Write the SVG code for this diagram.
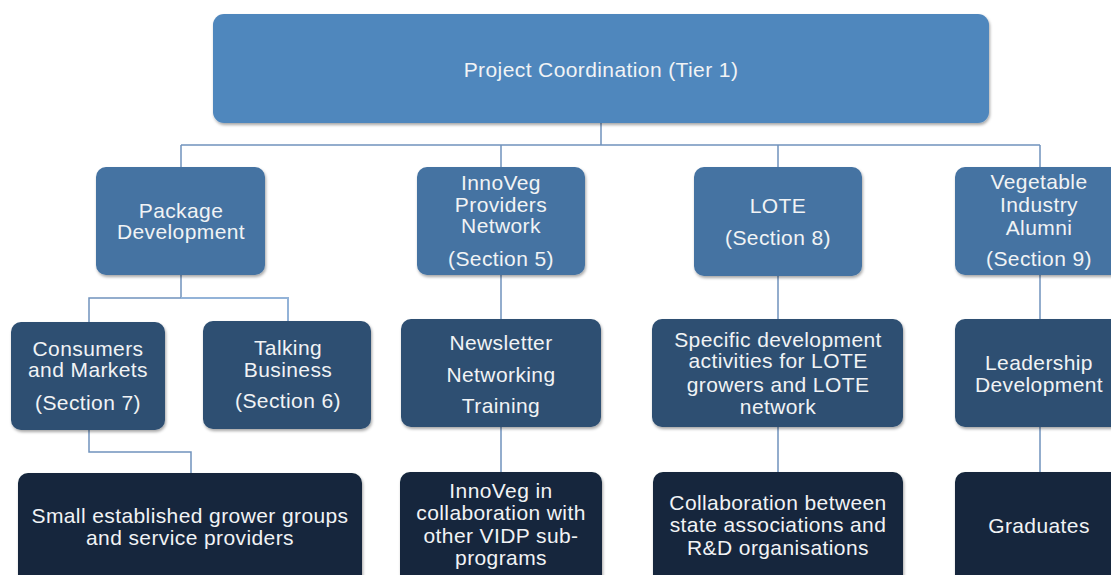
<svg xmlns="http://www.w3.org/2000/svg" width="1111" height="575" viewBox="0 0 1111 575">
  <defs>
    <filter id="shadow" x="-10%" y="-10%" width="120%" height="130%">
      <feDropShadow dx="1" dy="2" stdDeviation="1.6" flood-color="#000" flood-opacity="0.35"/>
    </filter>
  </defs>
  <style>
    .box { filter: url(#shadow); }
    .t1 { fill: #5087bd; }
    .t2 { fill: #4573a2; }
    .t3 { fill: #2e4f72; }
    .t4 { fill: #14283c; }
    .lbl { font-family: "Liberation Sans", Arial, Helvetica, sans-serif; font-size: 21px; letter-spacing: 0.4px; fill: #f1f3f5; text-anchor: middle; }
    .wire { fill: none; stroke: #7093bd; stroke-width: 1.5; }
    .wire-light { fill: none; stroke: #93b3d8; stroke-width: 2; }
  </style>

  <rect width="1111" height="575" fill="#ffffff"/>

  <!-- connectors -->
  <g id="connectors">
    <path class="wire" d="M601 123 V145 M181 145 H1040 M181 145 V167 M501 145 V167 M778 145 V167 M1040 145 V167"/>
    <path class="wire" d="M181 275 V298 H89 V322"/>
    <path class="wire-light" d="M181 298 H288 V321"/>
    <path class="wire" d="M501 275 V319 M778 276 V319 M1040 275 V319"/>
    <path class="wire" d="M89 430 V452 H191 V473"/>
    <path class="wire" d="M501 427 V472 M778 427 V472 M1040 427 V472"/>
  </g>

  <!-- tier 1 -->
  <g id="project-coordination">
    <rect class="box t1" x="213" y="14" width="776" height="109" rx="11"/>
    <text class="lbl" x="601" y="77">Project Coordination (Tier 1)</text>
  </g>

  <!-- tier 2 -->
  <g id="package-development">
    <rect class="box t2" x="96" y="167" width="169" height="108" rx="10"/>
    <text class="lbl" x="181" y="218">Package</text>
    <text class="lbl" x="181" y="239">Development</text>
  </g>
  <g id="innoveg-network">
    <rect class="box t2" x="417" y="167" width="168" height="108" rx="10"/>
    <text class="lbl" x="501" y="190">InnoVeg</text>
    <text class="lbl" x="501" y="212">Providers</text>
    <text class="lbl" x="501" y="233">Network</text>
    <text class="lbl" x="501" y="266">(Section 5)</text>
  </g>
  <g id="lote">
    <rect class="box t2" x="694" y="167" width="168" height="109" rx="10"/>
    <text class="lbl" x="778" y="213">LOTE</text>
    <text class="lbl" x="778" y="245">(Section 8)</text>
  </g>
  <g id="vegetable-alumni">
    <rect class="box t2" x="955" y="167" width="168" height="108" rx="10"/>
    <text class="lbl" x="1039" y="189">Vegetable</text>
    <text class="lbl" x="1039" y="212">Industry</text>
    <text class="lbl" x="1039" y="235">Alumni</text>
    <text class="lbl" x="1039" y="266">(Section 9)</text>
  </g>

  <!-- tier 3 -->
  <g id="consumers-markets">
    <rect class="box t3" x="11" y="322" width="154" height="108" rx="10"/>
    <text class="lbl" x="88" y="356">Consumers</text>
    <text class="lbl" x="88" y="377">and Markets</text>
    <text class="lbl" x="88" y="410">(Section 7)</text>
  </g>
  <g id="talking-business">
    <rect class="box t3" x="203" y="321" width="168" height="108" rx="10"/>
    <text class="lbl" x="288" y="355">Talking</text>
    <text class="lbl" x="288" y="377">Business</text>
    <text class="lbl" x="288" y="408">(Section 6)</text>
  </g>
  <g id="newsletter-networking-training">
    <rect class="box t3" x="401" y="319" width="200" height="108" rx="10"/>
    <text class="lbl" x="501" y="350">Newsletter</text>
    <text class="lbl" x="501" y="382">Networking</text>
    <text class="lbl" x="501" y="413">Training</text>
  </g>
  <g id="lote-activities">
    <rect class="box t3" x="652" y="319" width="251" height="108" rx="10"/>
    <text class="lbl" x="778" y="347">Specific development</text>
    <text class="lbl" x="778" y="368">activities for LOTE</text>
    <text class="lbl" x="778" y="392">growers and LOTE</text>
    <text class="lbl" x="778" y="414">network</text>
  </g>
  <g id="leadership-development">
    <rect class="box t3" x="955" y="319" width="168" height="108" rx="10"/>
    <text class="lbl" x="1039" y="370">Leadership</text>
    <text class="lbl" x="1039" y="392">Development</text>
  </g>

  <!-- tier 4 -->
  <g id="grower-groups">
    <rect class="box t4" x="18" y="473" width="344" height="120" rx="10"/>
    <text class="lbl" x="190" y="523">Small established grower groups</text>
    <text class="lbl" x="190" y="545">and service providers</text>
  </g>
  <g id="innoveg-collaboration">
    <rect class="box t4" x="400" y="472" width="202" height="120" rx="10"/>
    <text class="lbl" x="501" y="498">InnoVeg in</text>
    <text class="lbl" x="501" y="520">collaboration with</text>
    <text class="lbl" x="501" y="543">other VIDP sub-</text>
    <text class="lbl" x="501" y="565">programs</text>
  </g>
  <g id="state-collaboration">
    <rect class="box t4" x="653" y="472" width="250" height="120" rx="10"/>
    <text class="lbl" x="778" y="510">Collaboration between</text>
    <text class="lbl" x="778" y="532">state associations and</text>
    <text class="lbl" x="778" y="555">R&amp;D organisations</text>
  </g>
  <g id="graduates">
    <rect class="box t4" x="955" y="472" width="168" height="120" rx="10"/>
    <text class="lbl" x="1039" y="533">Graduates</text>
  </g>
</svg>
